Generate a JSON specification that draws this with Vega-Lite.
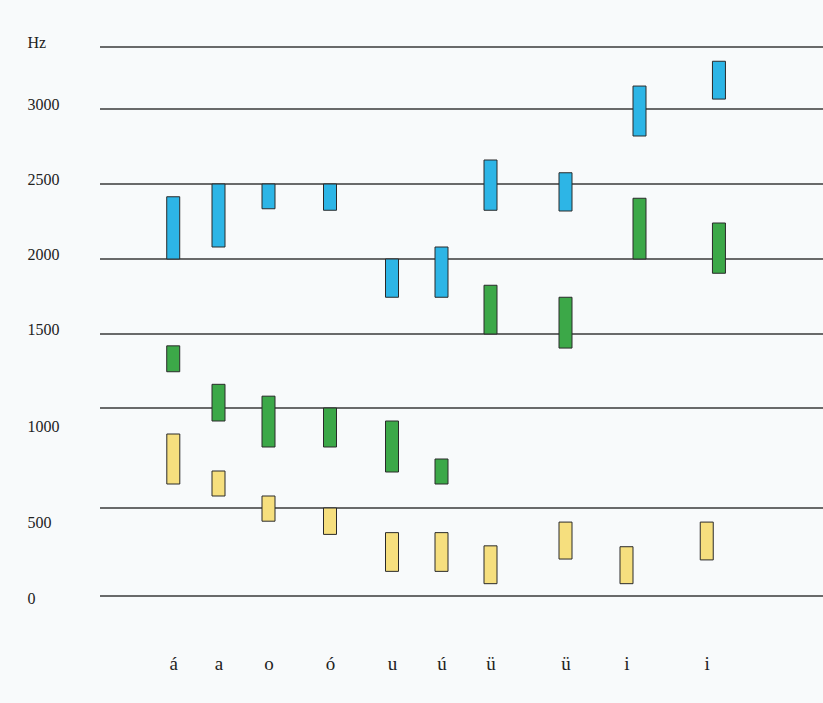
{
  "$schema": "https://vega.github.io/schema/vega-lite/v6.json",
  "width": 823,
  "height": 650,
  "autosize": "none",
  "padding": {"left": 0, "top": 0, "right": 0, "bottom": 53},
  "background": "#f8fafb",
  "config": {
    "view": {"stroke": null},
    "font": "Liberation Serif",
    "axis": {"labelFont": "Liberation Serif", "labelColor": "#222222", "grid": false, "ticks": false, "domain": false}
  },
  "datasets": {
    "formants": [
      {"n": 1, "v": "á", "f": "F1", "lo": 620, "hi": 870},
      {"n": 2, "v": "a", "f": "F1", "lo": 560, "hi": 685},
      {"n": 3, "v": "o", "f": "F1", "lo": 425, "hi": 560},
      {"n": 4, "v": "ó", "f": "F1", "lo": 350, "hi": 500},
      {"n": 5, "v": "u", "f": "F1", "lo": 140, "hi": 360},
      {"n": 6, "v": "ú", "f": "F1", "lo": 140, "hi": 360},
      {"n": 7, "v": "ü", "f": "F1", "lo": 70, "hi": 285},
      {"n": 8, "v": "ü", "f": "F1", "lo": 210, "hi": 420},
      {"n": 9, "v": "i", "f": "F1", "lo": 70, "hi": 280},
      {"n": 10, "v": "i", "f": "F1", "lo": 205, "hi": 420},
      {"n": 1, "v": "á", "f": "F2", "lo": 1245, "hi": 1420},
      {"n": 2, "v": "a", "f": "F2", "lo": 935, "hi": 1160},
      {"n": 3, "v": "o", "f": "F2", "lo": 805, "hi": 1080},
      {"n": 4, "v": "ó", "f": "F2", "lo": 805, "hi": 1000},
      {"n": 5, "v": "u", "f": "F2", "lo": 680, "hi": 935},
      {"n": 6, "v": "ú", "f": "F2", "lo": 620, "hi": 745},
      {"n": 7, "v": "ü", "f": "F2", "lo": 1500, "hi": 1825},
      {"n": 8, "v": "ü", "f": "F2", "lo": 1405, "hi": 1745},
      {"n": 9, "v": "i", "f": "F2", "lo": 2000, "hi": 2405},
      {"n": 10, "v": "i", "f": "F2", "lo": 1905, "hi": 2240},
      {"n": 1, "v": "á", "f": "F3", "lo": 2000, "hi": 2415},
      {"n": 2, "v": "a", "f": "F3", "lo": 2080, "hi": 2500},
      {"n": 3, "v": "o", "f": "F3", "lo": 2335, "hi": 2500},
      {"n": 4, "v": "ó", "f": "F3", "lo": 2325, "hi": 2500},
      {"n": 5, "v": "u", "f": "F3", "lo": 1745, "hi": 2000},
      {"n": 6, "v": "ú", "f": "F3", "lo": 1745, "hi": 2080},
      {"n": 7, "v": "ü", "f": "F3", "lo": 2325, "hi": 2660},
      {"n": 8, "v": "ü", "f": "F3", "lo": 2320, "hi": 2575},
      {"n": 9, "v": "i", "f": "F3", "lo": 2820, "hi": 3185},
      {"n": 10, "v": "i", "f": "F3", "lo": 3080, "hi": 3385}
    ]
  },
  "resolve": {"scale": {"x": "independent"}},
  "layer": [
    {
      "data": {"values": [
        {"hz": 0}, {"hz": 500}, {"hz": 1000}, {"hz": 1500},
        {"hz": 2000}, {"hz": 2500}, {"hz": 3000}, {"hz": 3500}
      ]},
      "mark": {"type": "rule", "color": "#3a3a3a", "strokeWidth": 1.5},
      "encoding": {
        "x": {"datum": 0, "type": "quantitative", "scale": {"domain": [0, 1], "range": [100, 823]}, "axis": null},
        "x2": {"datum": 1},
        "y": {
          "field": "hz", "type": "quantitative", "title": null,
          "scale": {"domain": [0, 500, 1000, 1500, 2000, 2500, 3000, 3500], "range": [596, 508, 408, 334, 259, 184, 109, 47], "nice": false, "zero": false},
          "axis": {
            "orient": "left", "offset": -27, "values": [0, 500, 1000, 1500, 2000, 2500, 3000, 3500],
            "format": "d", "labelExpr": "datum.value == 3500 ? 'Hz' : datum.label",
            "labelAlign": "left", "labelPadding": 0, "labelFontSize": 16, "labelBaseline": "middle",
            "labelOffset": {"condition": [
              {"test": "datum.value == 1000", "value": 18},
              {"test": "datum.value == 500", "value": 14},
              {"test": "datum.value == 0", "value": 2}
            ], "value": -5}
          }
        }
      }
    },
    {
      "data": {"name": "formants"},
      "transform": [{"filter": "datum.f != 'F1'"}],
      "mark": {"type": "bar", "size": 13, "stroke": "#2a2a2a", "strokeWidth": 1},
      "encoding": {
        "x": {"field": "n", "type": "quantitative", "axis": null,
          "scale": {"domain": [1, 2, 3, 4, 5, 6, 7, 8, 9, 10], "range": [169.5, 218.5, 268.5, 330, 392, 441.5, 490.5, 565.5, 639.5, 725.5], "nice": false, "zero": false}},
        "y": {"field": "lo", "type": "quantitative", "title": null,
          "scale": {"domain": [0, 500, 1000, 1500, 2000, 2500, 3000, 3500], "range": [596, 508, 408, 334, 259, 184, 109, 47], "nice": false, "zero": false}},
        "y2": {"field": "hi"},
        "color": {"field": "f", "type": "nominal", "legend": null,
          "scale": {"domain": ["F1", "F2", "F3"], "range": ["#f6df7e", "#3ca848", "#2db5e6"]}}
      }
    },
    {
      "data": {"name": "formants"},
      "transform": [{"filter": "datum.f == 'F1'"}],
      "mark": {"type": "bar", "size": 13, "stroke": "#2a2a2a", "strokeWidth": 1},
      "encoding": {
        "x": {"field": "n", "type": "quantitative", "title": null,
          "scale": {"domain": [1, 2, 3, 4, 5, 6, 7, 8, 9, 10], "range": [169.5, 218.5, 268.5, 330, 392, 441.5, 490.5, 565.5, 626.5, 713.5], "nice": false, "zero": false},
          "axis": {
            "values": [1, 2, 3, 4, 5, 6, 7, 8, 9, 10],
            "labelExpr": "['á','a','o','ó','u','ú','ü','ü','i','i'][datum.value - 1]",
            "labelFontSize": 19, "labelBaseline": "middle", "labelPadding": 13
          }},
        "y": {"field": "lo", "type": "quantitative", "title": null,
          "scale": {"domain": [0, 500, 1000, 1500, 2000, 2500, 3000, 3500], "range": [596, 508, 408, 334, 259, 184, 109, 47], "nice": false, "zero": false}},
        "y2": {"field": "hi"},
        "color": {"field": "f", "type": "nominal", "legend": null,
          "scale": {"domain": ["F1", "F2", "F3"], "range": ["#f6df7e", "#3ca848", "#2db5e6"]}}
      }
    }
  ]
}
